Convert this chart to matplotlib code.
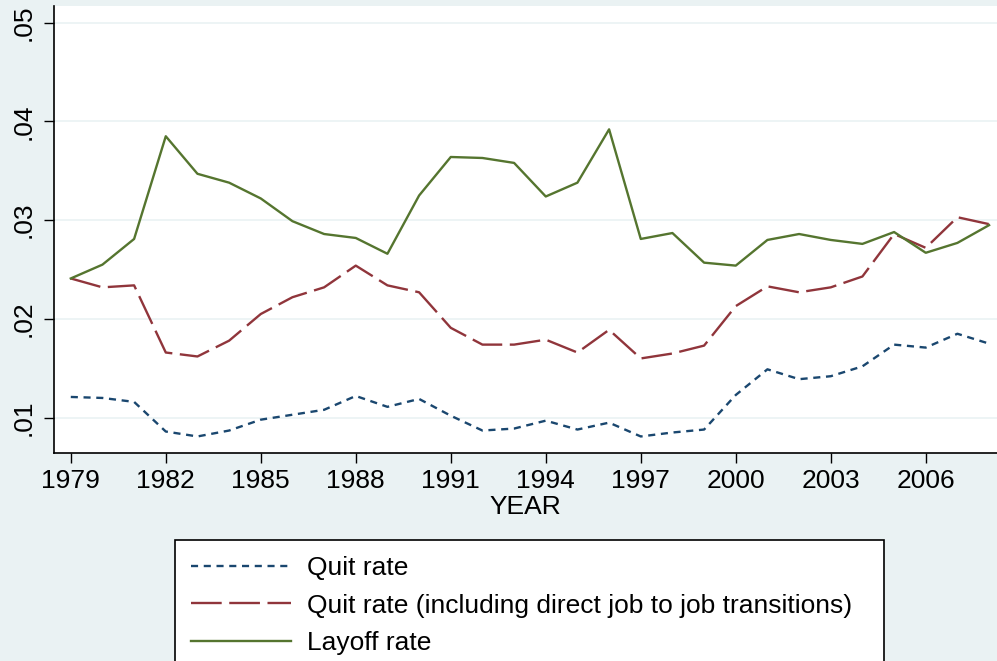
import numpy as np
import matplotlib
matplotlib.use("Agg")
from matplotlib import pyplot as plt

# Data
years = list(range(1979, 2009))
quit_rate = [0.0121, 0.0120, 0.0116, 0.0086, 0.0081, 0.0087, 0.0098, 0.0103, 0.0108,
             0.0122, 0.0111, 0.0119, 0.0102, 0.0087, 0.0089, 0.0097, 0.0088, 0.0095,
             0.0081, 0.0085, 0.0088, 0.0123, 0.0149, 0.0139, 0.0142, 0.0152, 0.0174,
             0.0171, 0.0185, 0.0175]
quit_rate_j2j = [0.0241, 0.0232, 0.0234, 0.0166, 0.0162, 0.0178, 0.0205, 0.0222, 0.0232,
                 0.0254, 0.0234, 0.0227, 0.0191, 0.0174, 0.0174, 0.0179, 0.0166, 0.0189,
                 0.0160, 0.0165, 0.0173, 0.0213, 0.0233, 0.0227, 0.0232, 0.0243, 0.0286,
                 0.0272, 0.0303, 0.0296]
layoff_rate = [0.0241, 0.0255, 0.0281, 0.0385, 0.0347, 0.0338, 0.0322, 0.0299, 0.0286,
               0.0282, 0.0266, 0.0325, 0.0364, 0.0363, 0.0358, 0.0324, 0.0338, 0.0392,
               0.0281, 0.0287, 0.0257, 0.0254, 0.0280, 0.0286, 0.0280, 0.0276, 0.0288,
               0.0267, 0.0277, 0.0295]
x_ticks = list(range(1979, 2007, 3))
y_ticks = [0.01, 0.02, 0.03, 0.04, 0.05]
y_tick_labels = [".01", ".02", ".03", ".04", ".05"]
labels = ["Quit rate", "Quit rate (including direct job to job transitions)", "Layoff rate"]

# Style
BG = "#EAF2F3"
NAVY = "#1a476f"
MAROON = "#90353b"
GREEN = "#55752f"
FS = 19
plt.rcParams["font.family"] = ["Liberation Sans", "DejaVu Sans"]

fig = plt.figure(figsize=(9.97, 6.61), dpi=100, facecolor=BG)
ax = fig.add_axes([54 / 997, 1 - 453 / 661, 1 - 54 / 997, (453 - 6) / 661])
ax.set_facecolor("white")

# Gridlines
ax.set_yticks(y_ticks)
ax.yaxis.grid(True, color=BG, linewidth=1.2)
ax.set_axisbelow(True)

# Lines
ax.plot(years, quit_rate, color=NAVY, lw=1.7, dashes=(3.0, 2.4), label=labels[0])
ax.plot(years, quit_rate_j2j, color=MAROON, lw=1.7, dashes=(13, 3.2), label=labels[1])
ax.plot(years, layoff_rate, color=GREEN, lw=1.7, label=labels[2])

# Axes
ax.set_xlim(1978.47, 2008.25)
ax.set_ylim(0.006425, 0.05169)
ax.set_xticks(x_ticks)
ax.set_yticklabels(y_tick_labels, rotation=90, va="center")
ax.tick_params(axis="both", labelsize=FS, length=7.2, width=1, color="black")
ax.tick_params(axis="y", pad=6)
ax.tick_params(axis="x", pad=4)
for side in ["top", "right"]:
    ax.spines[side].set_visible(False)
for side in ["left", "bottom"]:
    ax.spines[side].set_linewidth(1.2)
ax.set_xlabel("YEAR", fontsize=FS, labelpad=2)

# Legend, stretched to the box width of the reference
leg_top = 1 - 540 / 661
leg = fig.legend(loc="upper left", bbox_to_anchor=(175 / 997, leg_top - 0.3, 709 / 997, 0.3),
                 mode="expand", borderaxespad=0,
                 fontsize=FS, frameon=True, fancybox=False, edgecolor="black",
                 facecolor="white", framealpha=1, handlelength=3.8, handletextpad=0.6,
                 labelspacing=0.52, borderpad=0.6)
leg.get_frame().set_linewidth(1.2)

fig.savefig("out.png", dpi=100, facecolor=BG)
